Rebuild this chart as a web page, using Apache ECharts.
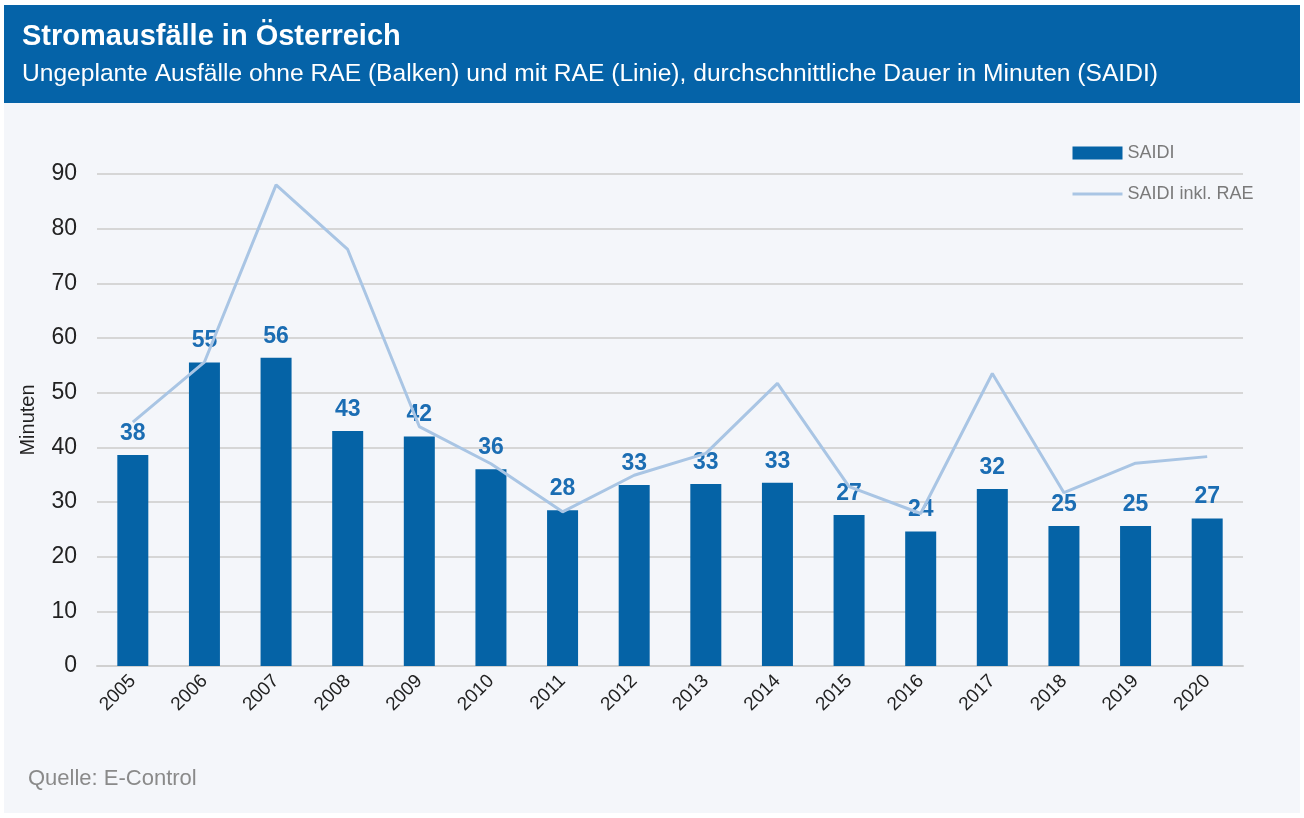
<!DOCTYPE html>
<html>
<head>
<meta charset="utf-8">
<script src="https://cdn.jsdelivr.net/npm/echarts@6/dist/echarts.min.js"></script>
<style>
html,body{margin:0;padding:0;background:#ffffff;}
#c{width:1304px;height:818px;}
</style>
</head>
<body>
<div id="c"></div>
<script>
const years = ['2005','2006','2007','2008','2009','2010','2011','2012','2013','2014','2015','2016','2017','2018','2019','2020'];
const saidi = [38.6,55.5,56.4,43.0,42.0,36.0,28.5,33.1,33.3,33.5,27.6,24.6,32.4,25.6,25.6,27.0];
const saidiRAE = [44.6,55.6,88.0,76.2,43.8,37.0,28.2,34.9,38.9,51.7,32.8,27.9,53.5,31.7,37.1,38.3];
const yTicks = [0,10,20,30,40,50,60,70,80,90];

const sans = "'Liberation Sans',Arial,sans-serif";

const chart = echarts.init(document.getElementById('c'), null, {renderer:'canvas'});
chart.setOption({
  backgroundColor: '#ffffff',
  animation: false,
  graphic: [
    {type:'rect', z:-10, shape:{x:4,y:5,width:1296,height:98}, style:{fill:'#0563a8'}},
    {type:'rect', z:-10, shape:{x:4,y:103,width:1296,height:710}, style:{fill:'#f4f6fa'}},
    {type:'text', left:28, top:768, style:{text:'Quelle: E-Control', fill:'#8a8a8a', font:"22px "+sans}}
  ],
  title: {
    left: 17, top: 17,
    text: 'Stromausfälle in Österreich',
    subtext: 'Ungeplante Ausfälle ohne RAE (Balken) und mit RAE (Linie), durchschnittliche Dauer in Minuten (SAIDI)',
    itemGap: 11,
    textStyle: {color:'#ffffff', fontSize:29, fontWeight:'bold', fontFamily:sans},
    subtextStyle: {color:'#ffffff', fontSize:24.6, fontFamily:sans}
  },
  legend: {
    left: 1066, top: 139, orient: 'vertical', itemGap: 23,
    itemWidth: 50, itemHeight: 13,
    textStyle: {color:'#7a7a7a', fontSize:18, fontFamily:sans},
    data: [
      {name:'SAIDI', icon:'rect'},
      {name:'SAIDI inkl. RAE', itemStyle:{opacity:0}, lineStyle:{width:3, color:'#a9c5e4'}}
    ]
  },
  grid: {left:97, right:61, top:174, bottom:152, containLabel:false},
  xAxis: {
    type: 'category', data: years,
    axisLine: {show:true, lineStyle:{color:'#d0d0d0', width:2}},
    axisTick: {show:false},
    axisLabel: {rotate:45, color:'#222', fontSize:19, fontFamily:sans, margin:12, interval:0}
  },
  yAxis: {
    type: 'value', min: yTicks[0], max: yTicks[yTicks.length-1], interval: 10,
    name: 'Minuten', nameLocation: 'middle', nameGap: 59, nameRotate: 90,
    nameTextStyle: {color:'#222', fontSize:20, fontFamily:sans},
    axisLine: {show:false}, axisTick: {show:false},
    axisLabel: {color:'#222', fontSize:23, fontFamily:sans, margin:20},
    splitLine: {lineStyle:{color:'#d6d6d6', width:2}}
  },
  series: [
    {
      name: 'SAIDI', type: 'bar', data: saidi, barWidth: 31,
      itemStyle: {color:'#0563a6'},
      label: {show:true, position:'top', distance:10, color:'#1b6db3', fontSize:23, fontWeight:'bold', fontFamily:sans,
        formatter: p => Math.floor(p.value)}
    },
    {
      name: 'SAIDI inkl. RAE', type: 'line', data: saidiRAE, symbol: 'none',
      lineStyle: {color:'#a9c5e4', width:3},
      itemStyle: {color:'#a9c5e4'}
    }
  ]
});
</script>
</body>
</html>
